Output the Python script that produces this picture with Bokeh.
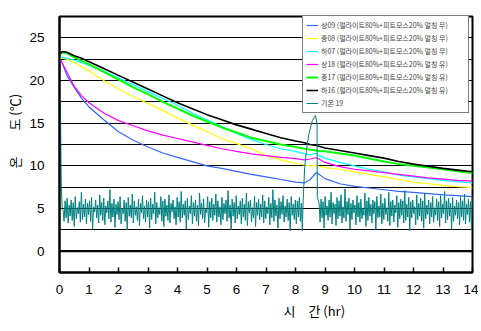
import numpy as np
from bokeh.plotting import figure
from bokeh.models import Span, Legend, LegendItem, FixedTicker, Range1d, Title
from bokeh.embed import file_html
from bokeh.resources import INLINE

# ---------------- data ----------------
t_main = [0, 0.1, 0.25, 0.5, 0.75, 1.0, 1.5, 2.0, 2.5, 3.0, 3.5, 4.0, 4.5, 5.0, 5.5,
          6.0, 6.5, 7.0, 7.5, 8.0, 8.3, 8.5, 8.7, 8.8, 9.0, 9.5, 10.0, 10.5, 11.0,
          11.5, 12.0, 12.5, 13.0, 13.5, 14.0]

sang09 = [22.6, 22.0, 20.6, 19.2, 17.9, 16.9, 15.4, 14.0, 13.0, 12.2, 11.5, 11.0, 10.5,
          10.0, 9.7, 9.35, 9.0, 8.7, 8.4, 8.1, 8.0, 8.4, 9.2, 9.0, 8.5, 7.9, 7.6, 7.4,
          7.2, 7.0, 6.9, 6.75, 6.6, 6.5, 6.4]
jung08 = [22.6, 22.6, 22.5, 22.1, 21.6, 21.1, 20.0, 19.0, 18.1, 17.3, 16.5, 15.6, 14.8,
          14.0, 13.2, 12.6, 12.0, 11.2, 10.7, 10.3, 10.1, 10.0, 10.05, 9.95, 9.8, 9.6,
          9.3, 9.0, 8.7, 8.4, 8.1, 7.9, 7.7, 7.55, 7.45]
ha07 = [22.7, 22.7, 22.6, 22.4, 22.1, 21.8, 21.1, 20.3, 19.5, 18.7, 17.9, 17.1, 16.2,
        15.4, 14.6, 13.8, 13.1, 12.5, 12.0, 11.7, 11.4, 11.3, 11.45, 11.2, 10.9, 10.4,
        10.0, 9.6, 9.3, 8.9, 8.7, 8.5, 8.3, 8.15, 8.0]
sang18 = [22.6, 22.0, 21.0, 19.3, 18.2, 17.4, 16.2, 15.3, 14.7, 14.1, 13.6, 13.2, 12.8,
          12.4, 12.0, 11.7, 11.4, 11.2, 11.0, 10.85, 10.7, 10.8, 10.95, 10.8, 10.4, 9.9,
          9.6, 9.4, 9.2, 9.0, 8.8, 8.6, 8.45, 8.3, 8.2]
jung17 = [23.0, 23.3, 23.2, 22.7, 22.3, 21.9, 21.0, 20.1, 19.2, 18.4, 17.5, 16.7, 15.9,
          15.2, 14.5, 13.9, 13.3, 12.9, 12.5, 12.2, 12.0, 11.9, 11.8, 11.75, 11.7, 11.45,
          11.2, 10.85, 10.5, 10.2, 10.0, 9.8, 9.6, 9.35, 9.15]
ha16 = [23.1, 23.4, 23.3, 22.9, 22.6, 22.2, 21.4, 20.6, 19.8, 19.0, 18.2, 17.4, 16.7,
        16.0, 15.4, 14.8, 14.3, 13.8, 13.3, 12.9, 12.7, 12.5, 12.4, 12.3, 12.1, 11.8,
        11.5, 11.2, 10.9, 10.5, 10.2, 9.95, 9.7, 9.5, 9.3]

# air temperature (기온)
air_start_t = [0.03, 0.06, 0.09]
air_start_v = [17.6, 8.0, 5.0]
air_seg1 = [4.8, 3.5, 5.9, 3.9, 6.2, 3.3, 5.4, 4.1, 6.0, 3.6, 5.7, 2.9, 6.4, 3.8, 5.1, 4.4, 5.8, 3.4, 6.9, 3.7,
            5.5, 4.0, 6.1, 3.2, 5.6, 4.3, 5.9, 3.5, 6.3, 2.6, 5.2, 4.6, 6.0, 3.9, 5.4, 3.3, 6.6, 4.2, 5.7, 3.6,
            6.2, 3.1, 5.3, 4.5, 5.9, 3.8, 7.2, 3.4, 5.6, 4.0, 6.1, 2.8, 5.5, 4.3, 5.8, 3.7, 6.4, 3.2, 5.0, 4.4,
            6.0, 3.5, 5.7, 2.5, 6.3, 4.1, 5.4, 3.9, 6.7, 3.3, 5.9, 4.2, 5.2, 3.6, 6.1, 3.0, 5.6, 4.5, 6.5, 3.8,
            5.3, 3.4, 6.0, 4.0, 5.8, 2.7, 6.2, 3.7, 5.5, 4.4, 6.9, 3.2, 5.7, 3.9, 5.1, 4.3, 6.4, 3.5, 5.9, 2.9,
            6.1, 4.1, 5.4, 3.6, 6.6, 3.3, 5.6, 4.6, 6.0, 3.8, 5.2, 3.1, 6.3, 4.0, 5.8, 3.4, 7.0, 3.9, 5.5, 4.2,
            5.9, 2.6, 6.2, 3.7, 5.3, 4.4, 6.5, 3.2, 5.7, 4.1, 6.0, 3.5, 5.4, 3.0, 6.8, 4.3, 5.6, 3.8, 6.1, 3.3,
            5.0, 4.5, 6.4, 2.8, 5.8, 3.9, 6.2, 3.6, 5.5, 4.2, 6.7, 3.4, 5.9, 4.0, 5.2, 3.1, 6.3, 3.7, 5.6, 4.4,
            6.0, 3.5, 7.1, 3.9, 5.4, 2.5, 6.1, 4.1, 5.7, 3.3, 6.5, 3.8, 5.3, 4.3, 5.9, 3.2, 6.2, 4.0, 5.5, 3.6,
            6.8, 3.0, 5.8, 4.5, 6.0, 3.4, 5.1, 3.9, 6.4, 2.9, 5.7, 4.2, 6.1, 3.7, 5.5, 4.0, 6.6, 3.3, 5.9, 3.8,
            5.2, 4.4, 6.3, 3.1, 5.6, 3.9, 7.2, 3.5, 6.0, 4.1, 5.4, 2.7, 6.2, 3.8, 5.8, 4.3, 6.5, 3.4, 5.3, 4.0,
            6.1, 3.6, 5.7, 2.4, 6.4, 4.2, 5.5, 3.7, 6.0, 3.2, 5.9, 4.0, 6.3, 3.5, 5.6]
air_arch_t = [8.23, 8.26, 8.31, 8.37, 8.45, 8.57, 8.68, 8.73, 8.74]
air_arch_v = [2.4, 5.9, 9.8, 11.8, 13.7, 15.3, 15.9, 14.9, 6.3]
air_seg2 = [5.6, 3.4, 6.1, 3.9, 5.8, 2.7, 6.4, 4.2, 5.3, 3.6, 6.0, 4.0, 6.9, 3.2, 5.7, 4.4, 5.5, 3.0, 6.3, 3.8,
            5.9, 4.1, 6.6, 3.3, 5.2, 3.9, 7.3, 3.5, 5.8, 4.3, 6.2, 2.6, 5.6, 3.7, 6.0, 4.5, 5.4, 3.1, 6.5, 4.0,
            5.7, 3.4, 6.1, 3.8, 5.0, 4.2, 6.8, 2.9, 5.9, 3.6, 6.3, 4.1, 5.5, 3.3, 6.0, 4.4, 5.8, 2.5, 6.4, 3.9,
            5.3, 4.0, 6.7, 3.2, 5.6, 3.7, 6.2, 4.3, 5.1, 3.5, 6.9, 3.0, 5.8, 4.1, 6.0, 3.4, 5.4, 4.5, 6.5, 2.8,
            5.7, 3.8, 6.1, 4.2, 5.9, 3.3, 7.1, 3.6, 5.5, 4.0, 6.3, 2.4, 5.8, 3.9, 6.0, 4.4, 5.2, 3.1, 6.6, 3.7,
            5.6, 4.1, 6.2, 3.5, 5.9, 2.7, 6.8, 3.8, 5.4, 4.3, 6.0, 3.2, 5.7, 4.0, 6.4, 3.4, 5.1, 4.2, 6.1, 3.6,
            5.8, 2.9, 6.5, 3.9, 5.5, 4.4, 7.0, 3.3, 5.9, 3.7, 6.2, 4.1, 5.6, 2.6, 6.3, 3.5, 5.3, 4.2, 6.0, 3.8,
            5.7, 3.1, 6.4, 4.0, 5.9, 3.6, 6.7, 3.2, 5.5, 4.3, 6.1, 3.4, 5.8, 2.5, 6.2]

labels = ["상09 (펄라이트80%+피트모스20% 멀칭 무)",
          "중08 (펄라이트80%+피트모스20% 멀칭 무)",
          "하07 (펄라이트80%+피트모스20% 멀칭 무)",
          "상18 (펄라이트80%+피트모스20% 멀칭 유)",
          "중17 (펄라이트80%+피트모스20% 멀칭 유)",
          "하16 (펄라이트80%+피트모스20% 멀칭 유)",
          "기온 19"]
colors = ["#3366ff", "#ffff00", "#00ffff", "#ff00ff", "#00ff00", "#000000", "#008080"]
x_min, x_max = 0, 14
y_min, y_max = -2.5, 27.5
x_ticks = list(range(15))
y_ticks = [0, 5, 10, 15, 20, 25]
grid_ticks = [2.5, 5, 7.5, 10, 12.5, 15, 17.5, 20, 22.5, 25]
x_title = "시\u3000간  (hr)"
y_title = "온\u3000\u3000도  (℃)"

# ---------------- figure ----------------
p = figure(frame_width=413, frame_height=256, x_range=Range1d(x_min, x_max),
           y_range=Range1d(y_min, y_max), output_backend="svg", toolbar_location=None,
           min_border_left=59, min_border_right=6, min_border_top=16,
           min_border_bottom=56)
p.outline_line_color = "black"
p.outline_line_width = 2
p.background_fill_color = "white"

p.xgrid.visible = False
p.ygrid.ticker = FixedTicker(ticks=grid_ticks)
p.ygrid.grid_line_color = "black"
p.ygrid.grid_line_width = 1.2

p.xaxis.ticker = FixedTicker(ticks=x_ticks)
p.yaxis.ticker = FixedTicker(ticks=y_ticks)
for ax in (p.xaxis, p.yaxis):
    ax.axis_line_width = 2
    ax.axis_line_color = "black"
    ax.major_label_text_font = "Liberation Sans"
    ax.major_label_text_font_size = "13.5px"
    ax.major_label_text_color = "black"
    ax.minor_tick_line_color = None
p.xaxis.major_tick_in = 5
p.xaxis.major_tick_out = 0
p.xaxis.major_tick_line_width = 1.5
p.xaxis.major_label_standoff = 12
p.yaxis.major_tick_line_color = None
p.yaxis.major_label_standoff = 9

p.add_layout(Span(location=0, dimension="width", line_color="black", line_width=2.2,
                  level="underlay"))

t_air1 = np.linspace(0.12, 8.2, len(air_seg1))
t_air2 = np.linspace(8.8, 14.0, len(air_seg2))
air_t = list(air_start_t) + list(t_air1) + list(air_arch_t) + list(t_air2)
air_v = list(air_start_v) + list(air_seg1) + list(air_arch_v) + list(air_seg2)

series = [sang09, jung08, ha07, sang18, jung17, ha16]
widths = [1.2, 1.2, 1.2, 1.2, 2.0, 1.6]
renderers = []
for ys, c, w in zip(series, colors[:6], widths):
    r = p.line(t_main, ys, line_color=c, line_width=w)
    renderers.append(r)
r_air = p.line(air_t, air_v, line_color=colors[6], line_width=1)
renderers.append(r_air)

# legend kept fully inside the frame so that no entry is clipped
legend = Legend(items=[LegendItem(label=l, renderers=[r]) for l, r in zip(labels, renderers)],
                location=(243, 159), padding=3, spacing=1, margin=0,
                label_height=12, glyph_height=12, glyph_width=12, label_standoff=3,
                label_width=144,
                label_text_font="Noto Sans CJK KR", label_text_font_size="7px",
                border_line_color="black", border_line_width=1,
                background_fill_color="white", background_fill_alpha=1)
p.add_layout(legend, "center")

p.add_layout(Title(text=y_title, align="left", offset=104, standoff=5,
                   text_font="Noto Sans CJK KR", text_font_size="13px",
                   text_font_style="normal", text_color="black"), "left")
p.add_layout(Title(text=x_title, align="left", offset=224, standoff=4,
                   text_font="Noto Sans CJK KR", text_font_size="13px",
                   text_font_style="normal", text_color="black"), "below")

open("out.html", "w").write(file_html(p, INLINE))
